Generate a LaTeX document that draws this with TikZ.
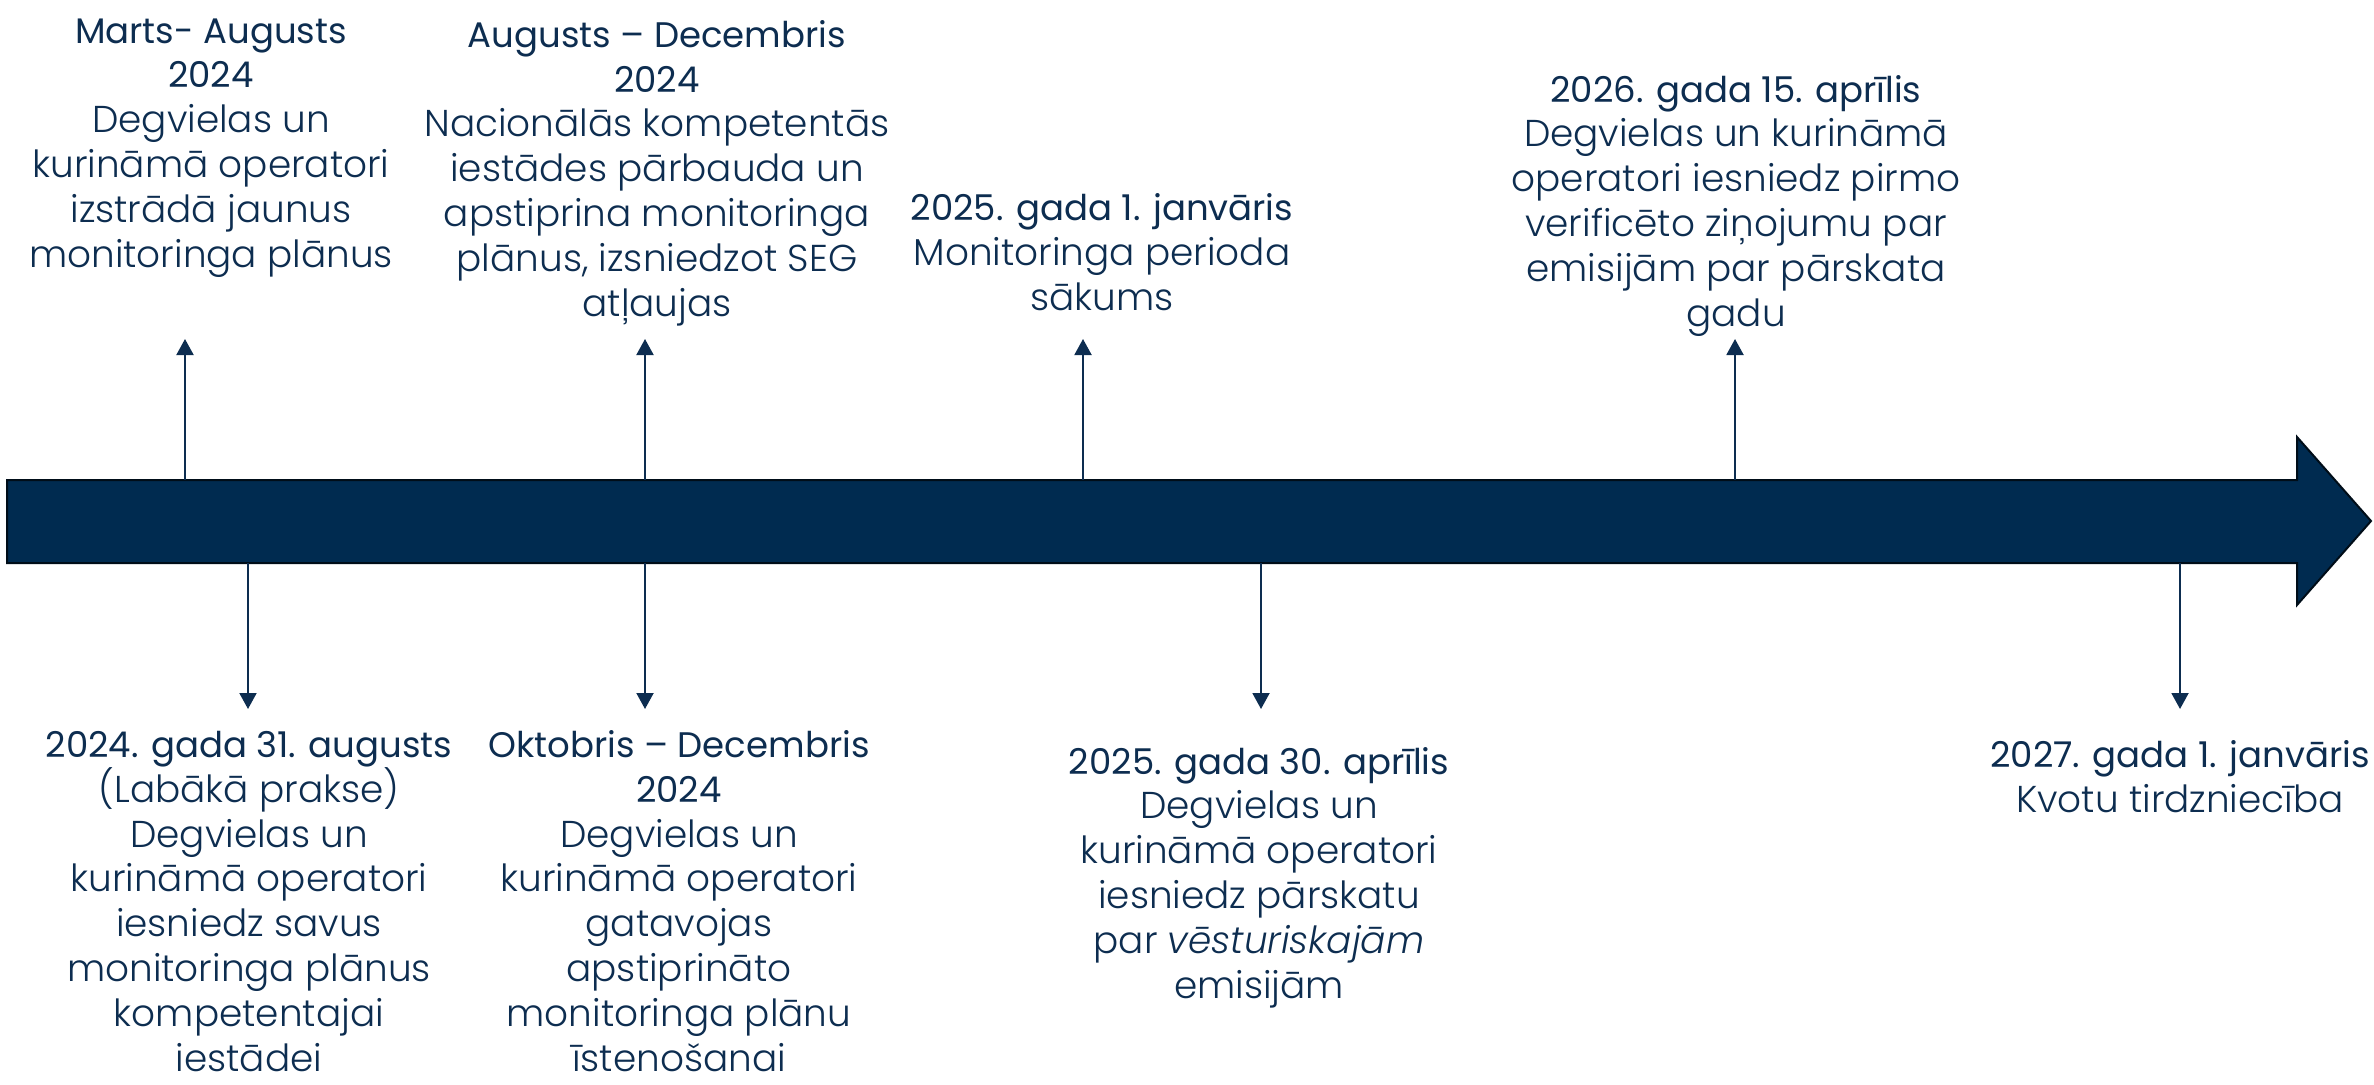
\documentclass[tikz,border=0pt]{standalone}
\usepackage{fontspec}
\setmainfont{Poppins Light}[ItalicFont={Poppins Light Italic}]
\newfontfamily\titlefont{Poppins}
\usetikzlibrary{arrows.meta}
\definecolor{navy}{HTML}{0D2D50}
\definecolor{barfill}{HTML}{002B50}
\newcommand{\evtitle}[1]{{\titlefont\fontsize{35.5}{44.8}\selectfont #1}}
\begin{document}
\begin{tikzpicture}[x=1pt, y=-1pt,
	event/.style={align=center, text=navy, inner sep=0pt, anchor=base, font=\fontsize{37.4}{44.8}\selectfont},
	tick/.style={draw=navy, line width=2pt, -{Triangle[width=17pt,length=16pt]}}
	]
	\useasboundingbox (0,0) rectangle (2374,1084);
	
	% timeline bar
	\draw[fill=barfill, draw=black!70!barfill, line width=2pt]
	(7,480) -- (2297,480) -- (2297,437) -- (2371,521) -- (2297,605) -- (2297,563) -- (7,563) -- cycle;
	
	% events above the bar (placed at the baseline of their last line)
	\node[event] (marts) at (211,267) {\evtitle{Marts- Augusts}\\ \evtitle{2024}\\ Degvielas un\\ kurināmā operatori\\ izstrādā jaunus\\ monitoringa plānus};
	\node[event] (augdec) at (657,316) {\evtitle{Augusts – Decembris}\\ \evtitle{2024}\\ Nacionālās kompetentās\\ iestādes pārbauda un\\ apstiprina monitoringa\\ plānus, izsniedzot SEG\\ atļaujas};
	\node[event] (janv25) at (1102,310) {\evtitle{2025. gada 1. janvāris}\\ Monitoringa perioda\\ sākums};
	\node[event] (apr26) at (1736,326) {\evtitle{2026. gada 15. aprīlis}\\ Degvielas un kurināmā\\ operatori iesniedz pirmo\\ verificēto ziņojumu par\\ emisijām par pārskata\\ gadu};
	
	% events below the bar
	\node[event] (aug24) at (249,1071) {\evtitle{2024. gada 31. augusts}\\ (Labākā prakse)\\ Degvielas un\\ kurināmā operatori\\ iesniedz savus\\ monitoringa plānus\\ kompetentajai\\ iestādei};
	\node[event] (oktdec) at (679,1071) {\evtitle{Oktobris – Decembris}\\ \evtitle{2024}\\ Degvielas un\\ kurināmā operatori\\ gatavojas\\ apstiprināto\\ monitoringa plānu\\ īstenošanai};
	\node[event] (apr25) at (1259,998) {\evtitle{2025. gada 30. aprīlis}\\ Degvielas un\\ kurināmā operatori\\ iesniedz pārskatu\\ par \textit{vēsturiskajām}\\ emisijām};
	\node[event] (janv27) at (2180,812) {\evtitle{2027. gada 1. janvāris}\\ Kvotu tirdzniecība};
	
	% ticks
	\coordinate (marts-s) at (185,480);  \coordinate (marts-e) at (185,339);
	\coordinate (augdec-s) at (645,480); \coordinate (augdec-e) at (645,339);
	\coordinate (janv25-s) at (1083,480); \coordinate (janv25-e) at (1083,339);
	\coordinate (apr26-s) at (1735,480); \coordinate (apr26-e) at (1735,339);
	\coordinate (aug24-s) at (248,563); \coordinate (aug24-e) at (248,709);
	\coordinate (oktdec-s) at (645,563); \coordinate (oktdec-e) at (645,709);
	\coordinate (apr25-s) at (1261,563); \coordinate (apr25-e) at (1261,709);
	\coordinate (janv27-s) at (2180,563); \coordinate (janv27-e) at (2180,709);
	
	\foreach \ev in {marts, augdec, janv25, apr26, aug24, oktdec, apr25, janv27}
	\draw[tick] (\ev-s) -- (\ev-e);
\end{tikzpicture}
\end{document}
